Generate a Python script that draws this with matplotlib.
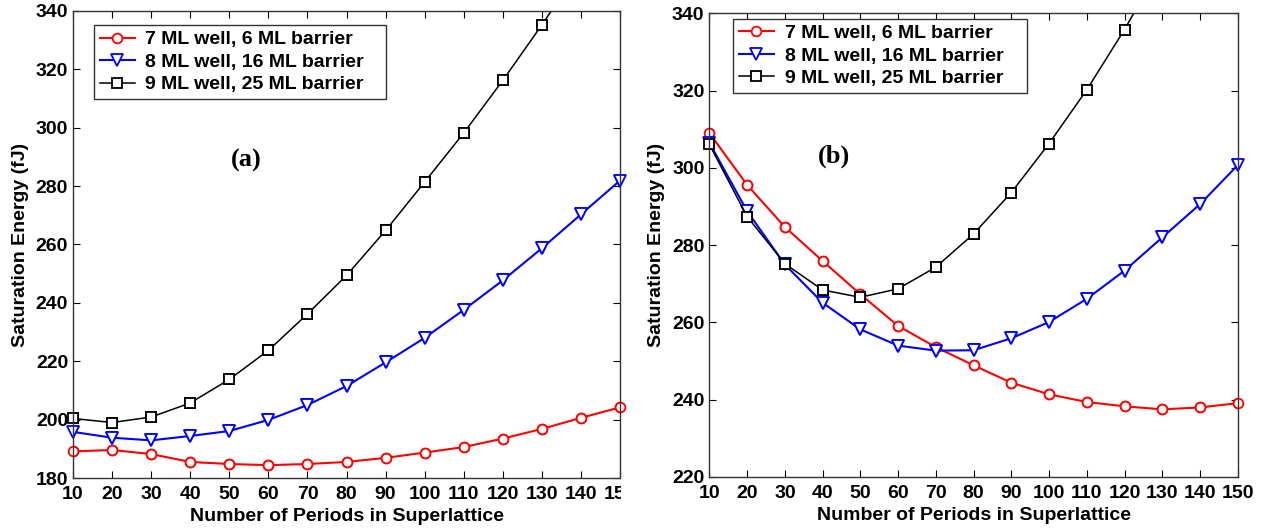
import matplotlib.pyplot as plt
from matplotlib.patches import Rectangle

plt.rcParams['font.family'] = 'Liberation Sans'
plt.rcParams['font.weight'] = 'bold'
plt.rcParams['axes.labelweight'] = 'bold'
plt.rcParams['font.size'] = 14

periods = [10, 20, 30, 40, 50, 60, 70, 80, 90, 100, 110, 120, 130, 140, 150]
labels = ['7 ML well, 6 ML barrier', '8 ML well, 16 ML barrier', '9 ML well, 25 ML barrier']

# (a) saturation energy in fJ
a_7ml = [189.1, 189.6, 188.2, 185.5, 184.8, 184.4, 184.8, 185.5, 186.9, 188.7,
         190.6, 193.5, 196.8, 200.6, 204.2]
a_8ml = [195.8, 193.8, 192.9, 194.4, 196.1, 199.9, 205.0, 211.5, 219.6, 228.0,
         237.6, 247.7, 258.7, 270.3, 281.9]
a_9ml = [200.4, 199.0, 200.9, 205.7, 213.8, 223.7, 236.2, 249.4, 264.8, 281.4,
         298.2, 316.2, 335.2, 355.0, 376.0]

# (b) saturation energy in fJ
b_7ml = [309.0, 295.6, 284.7, 275.9, 267.3, 259.1, 253.6, 248.9, 244.4, 241.4,
         239.4, 238.3, 237.5, 238.0, 239.1]
b_8ml = [306.5, 288.8, 275.0, 265.1, 258.2, 254.0, 252.7, 252.8, 255.9, 260.1,
         266.1, 273.4, 282.0, 290.6, 300.7]
b_9ml = [306.1, 287.4, 275.2, 268.4, 266.5, 268.7, 274.3, 282.9, 293.6, 306.3,
         320.2, 335.8, 353.0, 371.0, 390.0]

fig = plt.figure(figsize=(12.66, 5.31), dpi=100)
ax1 = fig.add_axes([0.0577, 0.0998, 0.4320, 0.8795])
ax2 = fig.add_axes([0.5603, 0.1017, 0.4174, 0.8733])


def draw(ax, ys, ylim, yticks, tag, tag_pos, leg_box):
    styles = [('red', 'o', 7, 1.5), ('blue', 'v', 8.5, 1.5), ('black', 's', 7, 1.1)]
    for y, lab, (c, m, ms, lw) in zip(ys, labels, styles):
        ax.plot(periods, y, color=c, lw=lw, marker=m, ms=ms, mfc='white',
                mec=c, mew=1.3, label=lab)
        # markers on the frame stay whole
        inside = [(p, v) for p, v in zip(periods, y) if ylim[0] <= v <= ylim[1]]
        ax.plot([p for p, v in inside], [v for p, v in inside], ls='none',
                marker=m, ms=ms, mfc='white', mec=c, mew=1.3, clip_on=False)
    ax.set_xlim(10, 150)
    ax.set_ylim(*ylim)
    ax.set_xticks(periods, [str(p) for p in periods], fontweight='bold')
    ax.set_yticks(yticks, [str(v) for v in yticks], fontweight='bold')
    ax.tick_params(direction='in', length=5, width=0.8, top=True, right=True,
                   labelsize=14)
    ax.tick_params(axis='x', pad=6)
    ax.tick_params(axis='y', pad=3.5)
    for s in ax.spines.values():
        s.set_color('#333333')
        s.set_linewidth(1.0)
    ax.set_xlabel('Number of Periods in Superlattice', fontsize=14,
                  fontweight='bold', labelpad=3.5)
    ax.set_ylabel('Saturation Energy (fJ)', fontsize=14, fontweight='bold',
                  labelpad=5)
    ax.text(tag_pos[0], tag_pos[1], tag, transform=ax.transAxes,
            family='Liberation Serif', fontweight='bold', fontsize=19,
            ha='center', va='center')
    leg = ax.legend(loc='upper left', bbox_to_anchor=leg_box, mode='expand',
                    borderaxespad=0, fancybox=False, framealpha=1,
                    edgecolor='#333333', handlelength=1.8, handletextpad=0.55,
                    labelspacing=0.25, borderpad=0.3,
                    prop={'size': 14, 'weight': 'bold'})
    leg.get_frame().set_linewidth(1.0)


draw(ax1, [a_7ml, a_8ml, a_9ml], (180, 340), list(range(180, 341, 20)), '(a)',
     (0.316, 0.681), (0.038, 0.970, 0.534, 0.0))
draw(ax2, [b_7ml, b_8ml, b_9ml], (220, 340), list(range(220, 341, 20)), '(b)',
     (0.236, 0.692), (0.045, 0.988, 0.556, 0.0))

# trim the last x tick label of the left panel where the panels meet
fig.patches.append(Rectangle((0.4905, 0.0), 0.025, 0.099, transform=fig.transFigure,
                             facecolor='white', edgecolor='none', zorder=10))

fig.savefig('out.png', dpi=100)
